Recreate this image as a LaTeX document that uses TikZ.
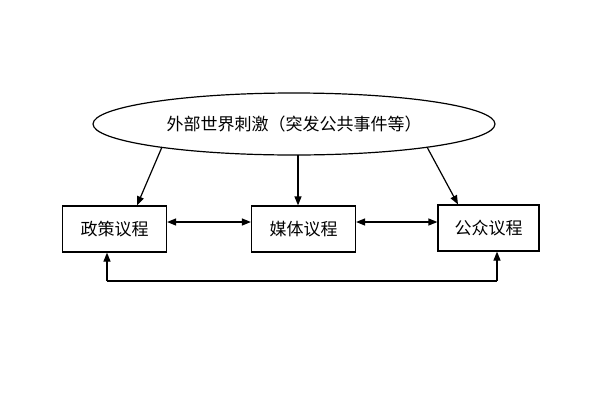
\documentclass[tikz,border=0pt]{standalone}
\usepackage{fontspec}
\newfontfamily\cjk{Noto Sans CJK SC}
\usetikzlibrary{shapes.geometric,arrows.meta}
\begin{document}
\begin{tikzpicture}[x=1pt,y=-1pt,
  agenda/.style={draw,line width=1.2pt,minimum width=104pt,minimum height=46pt,inner sep=0pt,font=\cjk\fontsize{17}{17}\selectfont},
  link/.style={line width=1.2pt,-{Triangle[length=9pt,width=7pt]}},
  dlink/.style={line width=1.2pt,{Triangle[length=9pt,width=7pt]}-{Triangle[length=9pt,width=7pt]}}]
\useasboundingbox (0,0) rectangle (600,400);
\node[draw,ellipse,line width=1.2pt,minimum width=402pt,minimum height=62pt,inner sep=0pt,font=\cjk\fontsize{17}{17}\selectfont] (world) at (294,124) {外部世界刺激（突发公共事件等）};
\node[agenda] (policy) at (114.5,229) {政策议程};
\node[agenda] (media) at (303.5,229) {媒体议程};
\node[agenda,minimum width=101pt] (public) at (488.5,228) {公众议程};
\coordinate (wl) at (162,147);
\coordinate (wm) at (298,155);
\coordinate (wr) at (427,147);
\draw[link] (wl) -- (policy.north -| 137,0);
\draw[link] (wm) -- (media.north -| 298,0);
\draw[link] (wr) -- (public.north -| 458,0);
\draw[dlink] (policy.east |- 0,222) -- (media.west |- 0,222);
\draw[dlink] (media.east |- 0,222) -- (public.west |- 0,222);
\coordinate (bl) at (107,281);
\coordinate (br) at (497,281);
\draw[link] (bl) -- (policy.south -| bl);
\draw[link] (br) -- (public.south -| br);
\draw[line width=1.2pt] (bl) -- (br);
\end{tikzpicture}
\end{document}
